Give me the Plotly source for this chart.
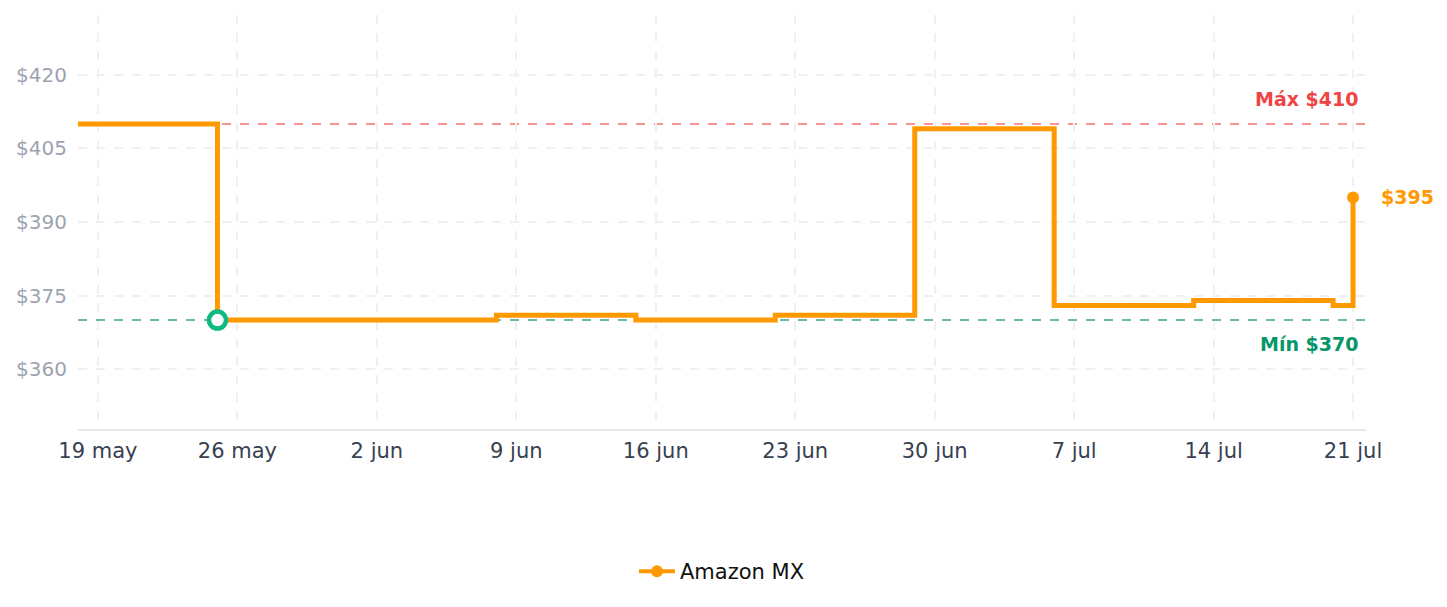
import plotly.graph_objects as go

dates = ["2025-05-18", "2025-05-25", "2025-06-08", "2025-06-15", "2025-06-22",
         "2025-06-29", "2025-07-06", "2025-07-13", "2025-07-20", "2025-07-21"]
prices = [410, 370, 371, 370, 371, 409, 373, 374, 373, 395]

max_price = 410
min_price = 370
min_date = "2025-05-25"
last_date = "2025-07-21"
last_price = 395

tick_vals = ["2025-05-19", "2025-05-26", "2025-06-02", "2025-06-09", "2025-06-16",
             "2025-06-23", "2025-06-30", "2025-07-07", "2025-07-14", "2025-07-21"]
tick_text = ["19 may", "26 may", "2 jun", "9 jun", "16 jun", "23 jun", "30 jun",
             "7 jul", "14 jul", "21 jul"]
y_ticks = [360, 375, 390, 405, 420]

ORANGE = "#ff9900"
FONT = "DejaVu Sans"

fig = go.Figure()

fig.add_trace(go.Scatter(
    x=dates, y=prices, mode="lines", line=dict(color=ORANGE, width=5, shape="hv"),
    name="Amazon MX", showlegend=False, hoverinfo="skip"))

# legend entry
fig.add_trace(go.Scatter(
    x=[None], y=[None], mode="lines+markers", name="Amazon MX",
    line=dict(color=ORANGE, width=4), marker=dict(color=ORANGE, size=12)))

# min marker
fig.add_trace(go.Scatter(
    x=[min_date], y=[min_price], mode="markers", showlegend=False,
    marker=dict(color="white", size=17, line=dict(color="#10b981", width=4.5))))

# last point
fig.add_trace(go.Scatter(
    x=[last_date], y=[last_price], mode="markers", showlegend=False,
    marker=dict(color=ORANGE, size=12), cliponaxis=False))

fig.add_hline(y=max_price, line=dict(color="#f87171", width=1.5, dash="dash"), layer="below")
fig.add_hline(y=min_price, line=dict(color="#34a882", width=1.5, dash="dash"), layer="below")

fig.add_annotation(x=1, xref="paper", y=max_price, yref="y", text="<b>Máx $410</b>",
                   showarrow=False, xanchor="right", yanchor="bottom", xshift=-6, yshift=12,
                   font=dict(family=FONT, size=19, color="#ef4444"))
fig.add_annotation(x=1, xref="paper", y=min_price, yref="y", text="<b>Mín $370</b>",
                   showarrow=False, xanchor="right", yanchor="top", xshift=-6, yshift=-11,
                   font=dict(family=FONT, size=19, color="#059669"))
fig.add_annotation(x=last_date, y=last_price, text="<b>$395</b>", showarrow=False,
                   xanchor="left", yanchor="middle", xshift=26,
                   font=dict(family=FONT, size=19, color=ORANGE))

fig.update_layout(
    width=1447, height=607,
    margin=dict(l=78, r=81, t=15, b=178),
    paper_bgcolor="white", plot_bgcolor="white",
    font=dict(family=FONT, size=20, color="#374151"),
    showlegend=True,
    legend=dict(orientation="h", x=0.5, xanchor="center", y=-0.295, yanchor="top",
                itemwidth=36,
                font=dict(family=FONT, size=21, color="#111111")),
    xaxis=dict(
        range=["2025-05-18", "2025-07-21 15:36"],
        tickvals=tick_vals, ticktext=tick_text,
        showgrid=True, gridcolor="#f0f0f0", griddash="dash", gridwidth=1.5,
        showline=True, linecolor="#e5e7eb", linewidth=1.5,
        ticks="", ticklabelstandoff=2,
        tickfont=dict(family=FONT, size=21, color="#374151"),
        zeroline=False),
    yaxis=dict(
        range=[347.8, 432.2], tickvals=y_ticks,
        ticktext=[f"${v}" for v in y_ticks],
        showgrid=True, gridcolor="#f0f0f0", griddash="dash", gridwidth=1.5,
        showline=False, zeroline=False, ticks="", ticklabelstandoff=10,
        tickfont=dict(family=FONT, size=20, color="#9ca3af")),
)

fig.write_html("out.html")
